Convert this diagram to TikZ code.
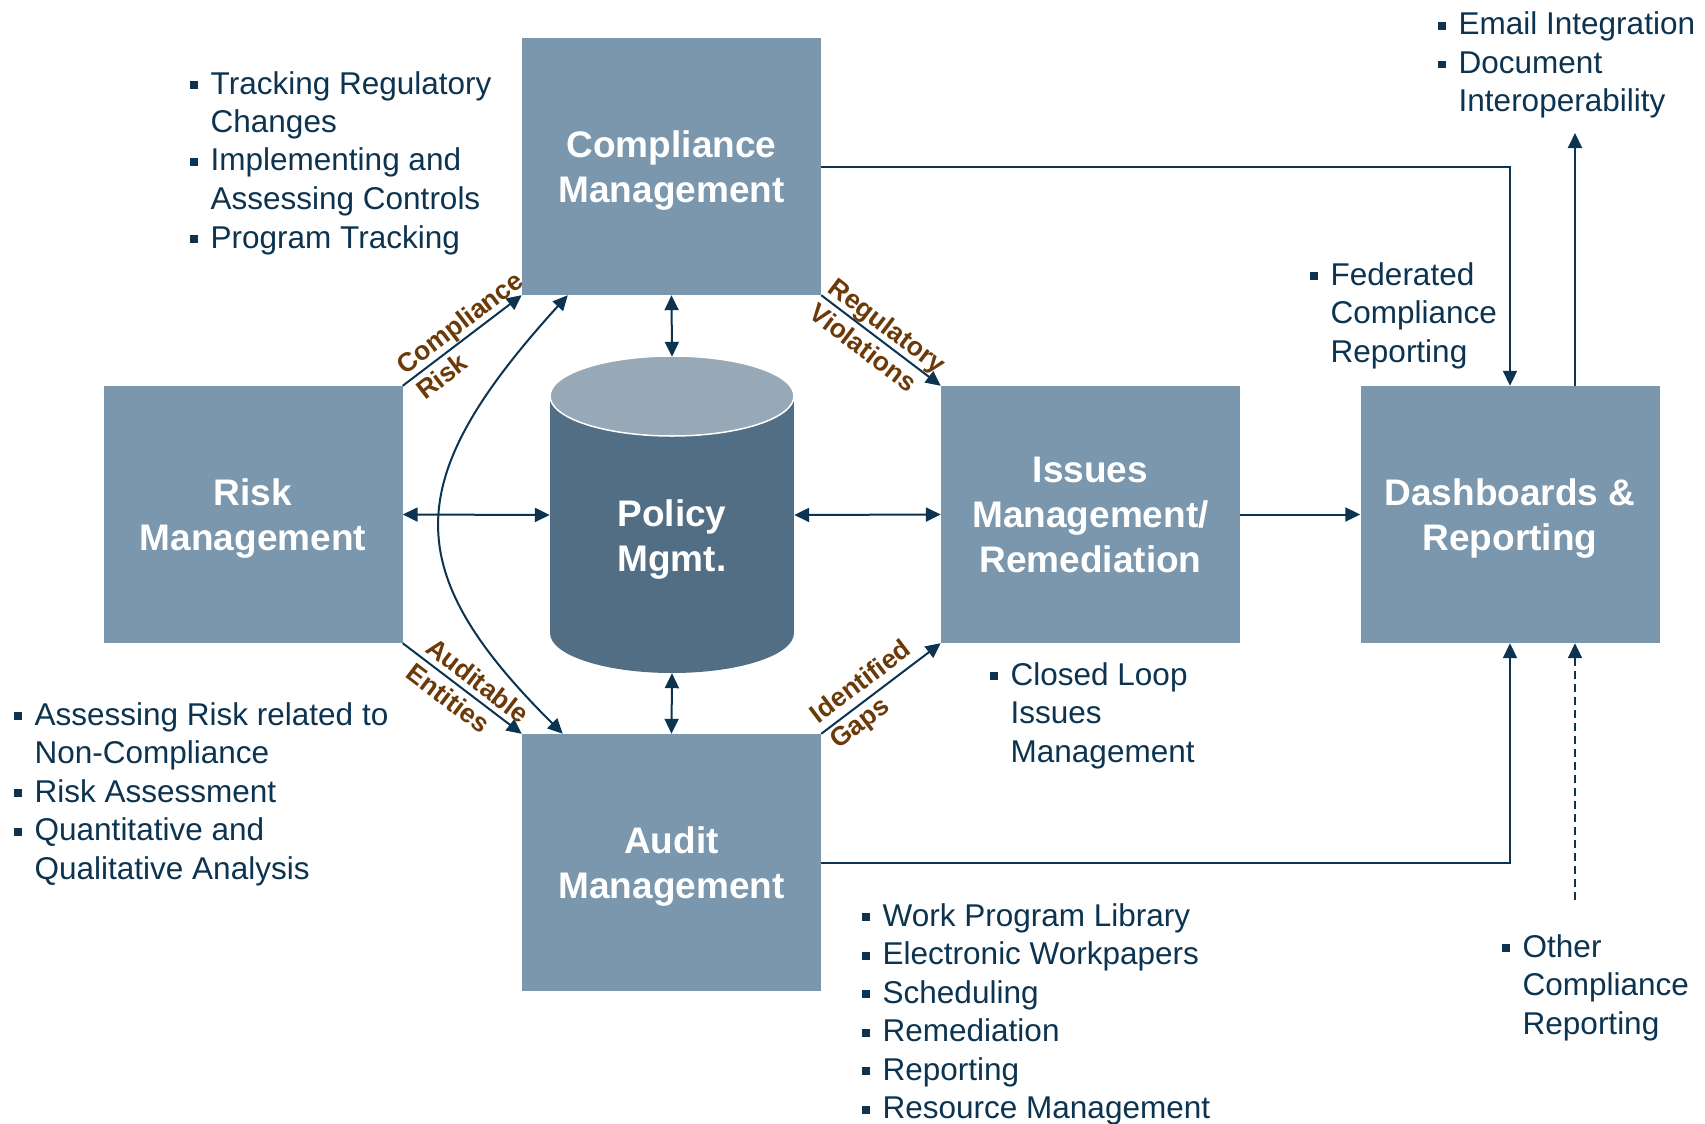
\documentclass[tikz,border=0pt]{standalone}
\usepackage{fontspec}
\setmainfont{Liberation Sans}
\usetikzlibrary{arrows.meta}

\definecolor{boxblue}{HTML}{7A97AD}
\definecolor{cylbody}{HTML}{516E84}
\definecolor{cyltop}{HTML}{97A9B6}
\definecolor{navy}{HTML}{0C3450}
\definecolor{labelbrown}{HTML}{6B3A08}

% bullet square and the indent of continuation lines
\newcommand{\itemmark}{\makebox[20.5pt][l]{\rule[5pt]{8pt}{8pt}}}
\newcommand{\itempad}{\hspace*{20.5pt}}

\begin{document}
\begin{tikzpicture}[x=1pt, y=-1pt,
  >={Triangle[length=15pt,width=14pt]},
  titletext/.style={text=white, align=center, inner sep=0pt, text depth=0pt,
    font=\fontsize{37}{45}\selectfont\bfseries},
  box/.style={titletext, rectangle, fill=boxblue,
    minimum width=299pt, minimum height=257pt},
  list/.style={anchor=base west, inner sep=0pt, text=navy,
    font=\fontsize{31.5}{38.5}\selectfont},
  conn/.style={draw=navy, line width=2pt, ->},
  both/.style={draw=navy, line width=2pt, <->},
  lbl/.style={sloped, text=labelbrown, align=left, inner sep=0pt,
    font=\fontsize{26.5}{32}\selectfont\bfseries}]

\useasboundingbox (0,0) rectangle (1705,1124);
\fill[white] (0,0) rectangle (1705,1124);

% main blocks
\node[box] (comp)   at (671.5,166.5) {Compliance\\Management};
\node[box] (risk)   at (253,514.5)   {Risk\\Management};
\node[box] (issues) at (1090.5,514.5) {Issues\\Management/\\Remediation};
\node[box] (dash)   at (1510,514.5)  {Dashboards \&\\Reporting};
\node[box] (audit)  at (671.5,862.5) {Audit\\Management};

% policy cylinder
\fill[cylbody] (550,396) rectangle (794,633);
\fill[cylbody] (672,633) ellipse [x radius=122, y radius=40];
\filldraw[fill=cyltop, draw=white, line width=1.5pt]
  (672,396) ellipse [x radius=122, y radius=40];
\node[inner sep=0pt, minimum width=244pt, minimum height=316pt] (cyl) at (672,515) {};
\node[titletext] (poltxt) at (672,536) {Policy\\Mgmt.};

% free ends of the outer arrows
\coordinate (mailin)  at (1575,133);
\coordinate (otherin) at (1575,900);

% connectors around the cylinder
\draw[both] (comp.south) -- (cyl.north);
\draw[both] (cyl.south) -- (audit.north);
\draw[both] (risk.east) -- (cyl.west);
\draw[both] (cyl.east) -- (issues.west);
\draw[both] ([xshift=46pt]comp.south west)
  .. controls (400,480) and (398,570) .. ([xshift=41pt]audit.north west);

% labelled diagonal flows
\draw[conn] (risk.north east) -- node[lbl, pos=0.56] {Compliance\\Risk} (comp.south west);
\draw[conn] (comp.south east) -- node[lbl, pos=0.475] {Regulatory\\Violations} (issues.north west);
\draw[conn] (risk.south east) -- node[lbl, pos=0.55] {Auditable\\Entities} (audit.north west);
\draw[conn] (audit.north east) -- node[lbl, pos=0.42] {Identified\\Gaps} (issues.south west);

% reporting flows
\draw[conn] (issues.east) -- (dash.west);
\draw[conn] (comp.east) -| (dash.north);
\draw[conn] (audit.east) -| (dash.south);
\draw[conn] ([xshift=65pt]dash.north) -- (mailin);
\draw[conn, dash pattern=on 8pt off 5pt] (otherin) -- ([xshift=65pt]dash.south);

% feature lists
\node[list] (complist) at (190,94) {\begin{tabular}[t]{@{}l@{}}
  \itemmark Tracking Regulatory\\
  \itempad Changes\\
  \itemmark Implementing and\\
  \itempad Assessing Controls\\
  \itemmark Program Tracking
\end{tabular}};

\node[list] (risklist) at (14,725) {\begin{tabular}[t]{@{}l@{}}
  \itemmark Assessing Risk related to\\
  \itempad Non-Compliance\\
  \itemmark Risk Assessment\\
  \itemmark Quantitative and\\
  \itempad Qualitative Analysis
\end{tabular}};

\node[list] (auditlist) at (862,926) {\begin{tabular}[t]{@{}l@{}}
  \itemmark Work Program Library\\
  \itemmark Electronic Workpapers\\
  \itemmark Scheduling\\
  \itemmark Remediation\\
  \itemmark Reporting\\
  \itemmark Resource Management
\end{tabular}};

\node[list] (issuelist) at (990,685) {\begin{tabular}[t]{@{}l@{}}
  \itemmark Closed Loop\\
  \itempad Issues\\
  \itempad Management
\end{tabular}};

\node[list] (fedlist) at (1310,285) {\begin{tabular}[t]{@{}l@{}}
  \itemmark Federated\\
  \itempad Compliance\\
  \itempad Reporting
\end{tabular}};

\node[list] (maillist) at (1438,35) {\begin{tabular}[t]{@{}l@{}}
  \itemmark Email Integration\\
  \itemmark Document\\
  \itempad Interoperability
\end{tabular}};

\node[list] (otherlist) at (1502,957) {\begin{tabular}[t]{@{}l@{}}
  \itemmark Other\\
  \itempad Compliance\\
  \itempad Reporting
\end{tabular}};
\end{tikzpicture}
\end{document}
